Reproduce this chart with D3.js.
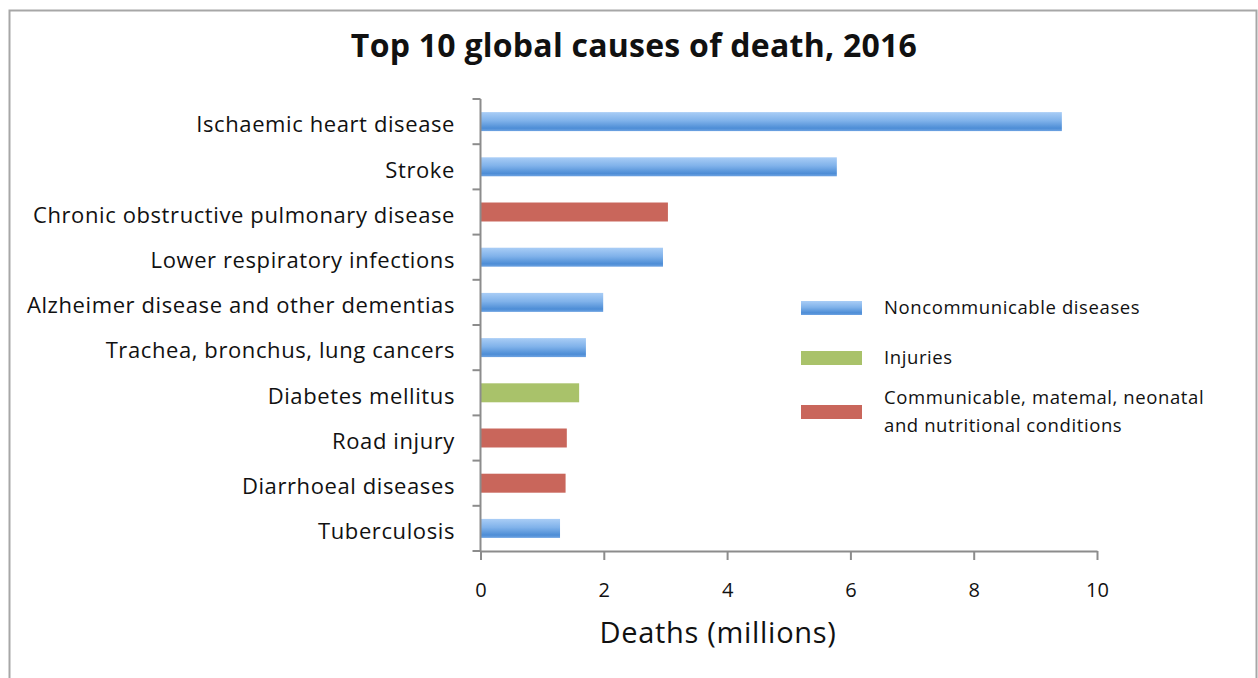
<!DOCTYPE html>
<html>
<head>
<meta charset="utf-8">
<script src="https://cdn.jsdelivr.net/npm/d3@7/dist/d3.min.js"></script>
<style>
  html, body { margin: 0; padding: 0; background: #fff; }
  svg { display: block; }
  text { font-family: "Open Sans", Lato, sans-serif; fill: #111; }
</style>
</head>
<body>
<svg id="chart" width="1258" height="678"></svg>
<script>
// Top 10 global causes of death, 2016 (deaths in millions)
const causes = [
  "Ischaemic heart disease",
  "Stroke",
  "Chronic obstructive pulmonary disease",
  "Lower respiratory infections",
  "Alzheimer disease and other dementias",
  "Trachea, bronchus, lung cancers",
  "Diabetes mellitus",
  "Road injury",
  "Diarrhoeal diseases",
  "Tuberculosis"
];
const deaths = [9.43, 5.78, 3.04, 2.96, 1.99, 1.71, 1.60, 1.40, 1.38, 1.29];
const groupOf = ["ncd", "ncd", "cmn", "ncd", "ncd", "ncd", "inj", "cmn", "cmn", "ncd"];

const groupKeys = ["ncd", "inj", "cmn"];
const groupLabels = [
  ["Noncommunicable diseases"],
  ["Injuries"],
  ["Communicable, matemal, neonatal", "and nutritional conditions"]
];
const xTicks = [0, 2, 4, 6, 8, 10];

const svg = d3.select("#chart");

// gradient for the blue bars
const defs = svg.append("defs");
const g1 = defs.append("linearGradient").attr("id", "blueGrad")
  .attr("x1", 0).attr("y1", 0).attr("x2", 0).attr("y2", 1);
[["0%", "#a9cdf6"], ["45%", "#80b2ea"], ["85%", "#4d8dd6"], ["100%", "#6ea3e2"]]
  .forEach(([o, c]) => g1.append("stop").attr("offset", o).attr("stop-color", c));

const fillFor = { ncd: "url(#blueGrad)", inj: "#a9c26a", cmn: "#c9665b" };

// frame
svg.append("rect")
  .attr("x", 9.5).attr("y", 10.5)
  .attr("width", 1247).attr("height", 700)
  .attr("fill", "none").attr("stroke", "#a7a7a7").attr("stroke-width", 2);

const x = d3.scaleLinear().domain([0, 10]).range([480.5, 1097]);
const y = d3.scaleBand().domain(causes).range([99, 551])
  .paddingInner(0.58).paddingOuter(0.29);

// title
svg.append("text")
  .attr("x", 634).attr("y", 57)
  .attr("text-anchor", "middle")
  .style("font-size", "32px").style("font-weight", "bold")
  .style("letter-spacing", "0.25px")
  .text("Top 10 global causes of death, 2016");

// bars
svg.append("g").selectAll("rect")
  .data(causes)
  .join("rect")
  .attr("x", x(0))
  .attr("y", d => y(d))
  .attr("width", (d, i) => x(deaths[i]) - x(0))
  .attr("height", y.bandwidth())
  .attr("fill", (d, i) => fillFor[groupOf[i]]);

// category labels
svg.append("g").selectAll("text")
  .data(causes)
  .join("text")
  .attr("x", 455)
  .attr("y", d => y(d) + y.bandwidth() / 2 + 3)
  .attr("dy", "0.35em")
  .attr("text-anchor", "end")
  .style("font-size", "22px")
  .style("letter-spacing", "0.6px")
  .text(d => d);

// y axis: line with ticks at band boundaries
const yAxis = svg.append("g").attr("stroke", "#8c8c8c").attr("stroke-width", 2);
yAxis.append("line")
  .attr("x1", x(0)).attr("x2", x(0))
  .attr("y1", y.range()[0]).attr("y2", y.range()[1]);
const bounds = d3.range(causes.length + 1).map(i => y.range()[0] + i * y.step());
yAxis.selectAll("line.tick").data(bounds).join("line")
  .attr("class", "tick")
  .attr("x1", x(0) - 8).attr("x2", x(0))
  .attr("y1", d => d).attr("y2", d => d);

// x axis
const xAxis = svg.append("g")
  .attr("transform", `translate(0,${y.range()[1]})`)
  .call(d3.axisBottom(x).tickValues(xTicks).tickSize(9).tickSizeOuter(0).tickPadding(33));
xAxis.select(".domain").attr("stroke", "#8c8c8c").attr("stroke-width", 2);
xAxis.selectAll(".tick line").attr("stroke", "#8c8c8c").attr("stroke-width", 2);
xAxis.selectAll(".tick text")
  .attr("dy", "0.2em")
  .style("font-size", "20px").style("font-family", "'Open Sans', sans-serif").attr("fill", "#111");

// axis title
svg.append("text")
  .attr("x", 718).attr("y", 643)
  .attr("text-anchor", "middle")
  .style("font-size", "29px")
  .style("letter-spacing", "0.7px")
  .text("Deaths (millions)");

// legend
const legendY = [308, 358, 412];
const leg = svg.append("g");
groupKeys.forEach((k, i) => {
  leg.append("rect")
    .attr("x", 801).attr("y", legendY[i] - 7)
    .attr("width", 61).attr("height", 14)
    .attr("fill", fillFor[k]);
  const lines = groupLabels[i];
  const t = leg.append("text")
    .attr("x", 884)
    .style("font-size", "18.5px")
    .style("letter-spacing", "0.6px");
  lines.forEach((ln, j) => {
    t.append("tspan")
      .attr("x", 884)
      .attr("y", legendY[i] + 6 + (j - (lines.length - 1) / 2) * 28)
      .text(ln);
  });
});
</script>
</body>
</html>
